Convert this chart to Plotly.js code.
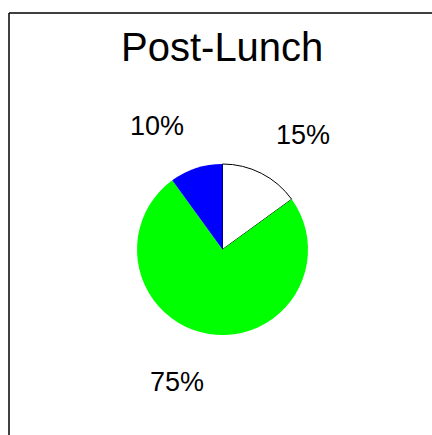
<!DOCTYPE html>
<html>
<head>
<meta charset="utf-8">
<script src="https://cdn.plot.ly/plotly-3.0.1.min.js"></script>
<style>html,body{margin:0;padding:0;background:#fff;}</style>
</head>
<body>
<div id="chart" style="width:432px;height:435px;"></div>
<script>
const categories = ["A", "B", "C"];
const values = [15, 75, 10];
const sliceColors = ["#ffffff", "#00ff00", "#0000ff"];
const labelTexts = ["15%", "75%", "10%"];

const W = 432, H = 435;
const cx = 222.5, cy = 249.5, R = 85.5;
const labelDist = 1.64;
const labelShiftDeg = [8, 10, -10];

const total = values.reduce((a, b) => a + b, 0);
let cum = 0;
const annotations = [];
values.forEach((v, i) => {
  const mid = (cum + v / 2) / total * 360 + labelShiftDeg[i];
  cum += v;
  const a = mid * Math.PI / 180;
  const px = cx + labelDist * R * Math.sin(a);
  const py = cy - labelDist * R * Math.cos(a);
  annotations.push({
    text: labelTexts[i], showarrow: false,
    xref: "paper", yref: "paper",
    x: px / W, y: 1 - py / H, xanchor: "center", yanchor: "middle",
    font: {family: "Liberation Sans, Arial, sans-serif", size: 27, color: "#000"}
  });
});

const data = [{
  type: "pie",
  labels: categories,
  values: values,
  sort: false,
  direction: "clockwise",
  rotation: 0,
  textinfo: "none",
  hoverinfo: "none",
  marker: {colors: sliceColors, line: {color: ["#000000", "rgba(0,0,0,0)", "rgba(0,0,0,0)"], width: 1}},
  domain: {x: [(cx - R) / W, (cx + R) / W], y: [1 - (cy + R) / H, 1 - (cy - R) / H]}
}];

const layout = {
  width: W, height: H,
  margin: {l: 0, r: 0, t: 0, b: 0},
  paper_bgcolor: "#ffffff",
  showlegend: false,
  title: {
    text: "Post-Lunch",
    font: {family: "Liberation Sans, Arial, sans-serif", size: 40, color: "#000"},
    x: 222.2 / W, xanchor: "center", xref: "paper",
    y: 1 - 47 / H, yanchor: "middle", yref: "container"
  },
  annotations: annotations,
  shapes: [
    {type: "line", xref: "paper", yref: "paper", x0: 9 / W, x1: 1, y0: 1 - 13 / H, y1: 1 - 13 / H, line: {color: "#000", width: 1.5}},
    {type: "line", xref: "paper", yref: "paper", x0: 9 / W, x1: 9 / W, y0: 0, y1: 1 - 13 / H, line: {color: "#000", width: 1.5}}
  ]
};

Plotly.newPlot("chart", data, layout, {displayModeBar: false, staticPlot: true});
</script>
</body>
</html>
